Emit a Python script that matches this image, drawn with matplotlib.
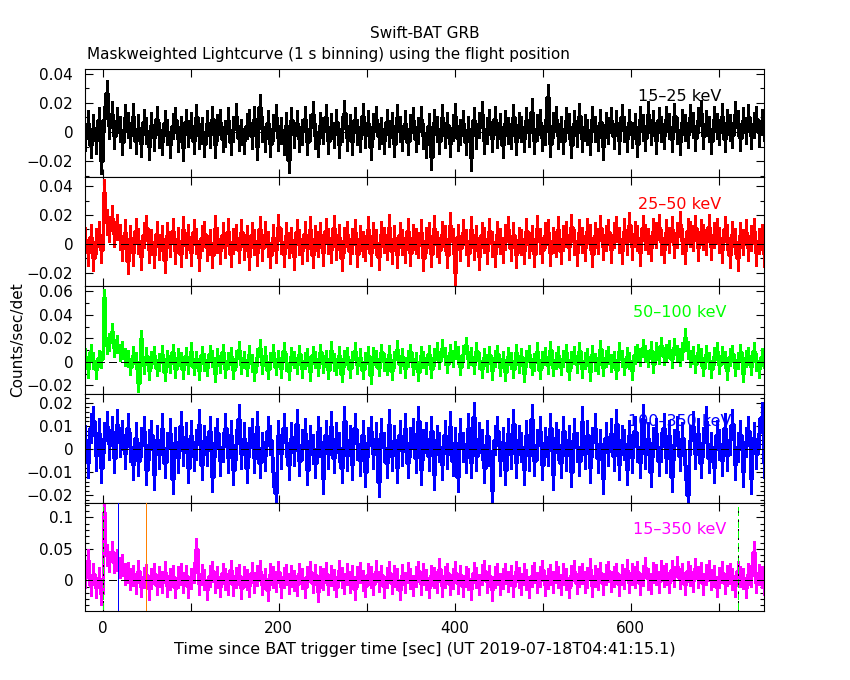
import numpy as np
import matplotlib
matplotlib.use("Agg")
import matplotlib.pyplot as plt
from matplotlib.ticker import MultipleLocator, FuncFormatter

plt.rcParams["font.family"] = "DejaVu Sans"

# light curves, resampled to 3 s bins, first bin centre at -19.5 s
t_first = -19.5
t_bin = 3.0

# 15-25 keV, units of 1e-3 counts/sec/det
rate_15_25 = [
    -4, 6, -9, 3, -6, 8, -20, 9, 27, 4, 12, -3, 8, 2, -7, 10, 5, -2, 11, -6,
    3, -8, 7, 1, -10, 5, -4, 9, -2, -7, 6, 0, -9, 4, 8, -5, 2, -11, 7, -1,
    5, -6, 10, -3, 1, -8, 6, -2, 9, -9, 3, 7, -5, -1, 8, -7, 2, 11, -4, 0,
    -6, 4, 7, -3, 9, -10, 17, 2, -5, 6, -8, 3, 10, -4, 1, -7, 5, -19, 8, -2,
    6, -5, 0, 9, -7, 3, 12, -3, -8, 5, 1, 10, -6, 4, -2, 7, -9, 2, 13, -4,
    3, -7, 8, 0, -5, 11, -2, 6, -10, 4, 9, -3, 1, -6, 7, -1, 5, -8, 10, 2,
    -4, 6, -7, 3, 8, -5, 1, 9, -3, -9, 4, -17, 7, 2, -6, 10, -2, 5, -8, 3,
    11, -4, 0, 6, -7, 2, -18, 8, -3, 5, 12, -6, 1, 7, -5, 9, -2, 4, -9, 6,
    1, -3, 10, -7, 5, 2, -5, 8, -1, 14, -6, 3, 7, -4, 0, 24, -8, 5, 9, -3,
    2, -6, 8, 4, -9, 6, -1, 11, -5, 3, 0, -7, 9, 2, -4, 7, -10, 5, 1, 8,
    -3, 6, -6, 10, 2, -5, 7, -2, 4, -8, 9, 3, -4, 12, 0, 6, -6, 8, 2, -3,
    9, 4, -5, 11, 1, -7, 7, 3, -2, 10, 5, -4, 8, 13, -3, 6, 2, -6, 9, 4,
    0, 11, -5, 7, 3, -2, 12, 6, -4, 8, 1, 10, -3, 5, 9, -1, 7, 3,
]

# 25-50 keV, units of 1e-3
rate_25_50 = [
    3, -6, 5, -10, 2, 7, -4, 36, 15, 10, 18, 7, 12, 5, -3, 8, -12, 4, -6, 9,
    2, -9, 6, 11, -4, 1, -8, 7, -2, 4, -11, 6, 0, 9, -5, 3, -7, 10, -1, 5,
    -6, 8, 2, -10, 4, 7, -3, 1, -8, 11, 3, -5, 6, -1, 9, -7, 2, 5, -4, 8,
    -2, 4, -9, 6, 1, -6, 10, -3, 7, 0, -8, 5, -4, 12, 2, -7, 6, -1, 3, -9,
    8, 1, -5, 7, -3, 10, -8, 4, 0, 6, -6, 9, 2, -4, 11, -2, 5, -10, 3, 7,
    -5, 2, 8, -7, 4, 0, -3, 10, -6, 6, 1, -9, 7, 3, -2, 12, -5, 4, -8, 6,
    1, -4, 9, -6, 5, 2, -1, 8, -10, 3, 6, -7, 11, 0, -4, 7, 4, -8, 13, 2,
    -20, 5, -3, 8, 1, -6, 10, -2, 4, -9, 6, 3, -5, 9, 0, -7, 7, 2, -4, 5,
    10, -3, 6, -8, 3, 1, -5, 9, -1, 4, -7, 11, 2, -4, 6, 8, -6, 3, 0, 10,
    -5, 4, 7, -2, 12, 1, -6, 8, 3, -3, 9, 5, -7, 6, 2, 11, -2, 4, 8, -4,
    6, 10, 3, -5, 9, 1, 13, -2, 7, 4, -6, 11, 5, 2, -3, 9, 6, 12, 1, -4,
    8, 3, 10, -1, 6, 14, 2, -5, 9, 7, 4, 11, -3, 8, 5, 1, 12, -2, 6, 9,
    3, -4, 10, 5, -8, 7, 2, -10, 6, 1, 8, -3, 4, 9, -6, 2, 5, -7,
]

# 50-100 keV, units of 1e-3
rate_50_100 = [
    4, -6, 8, 1, -7, 3, 2, 55, 14, 17, 26, 12, 15, 8, 10, 4, 3, -4, 6, 1,
    -18, 20, -3, 5, -8, 2, 6, -5, 0, 7, -9, 3, -2, 8, -6, 4, 1, -7, 5, -3,
    9, -4, 2, -8, 6, 0, -5, 7, 3, -10, 4, -2, 8, -6, 1, 5, -7, 3, 10, -3,
    2, -5, 7, -1, -9, 4, 12, -3, 6, -7, 1, 8, -4, 3, -6, 9, 0, -8, 5, 2,
    -3, 7, -6, 1, 4, -9, 6, 2, -5, 8, -2, 3, -7, 10, 0, -4, 6, -10, 3, 5,
    -6, 2, 9, -3, 4, -7, 1, 6, -11, 5, 3, -5, 8, 0, -4, 7, -8, 2, 11, -2,
    4, -6, 3, 8, -4, 1, -9, 6, 2, -3, 7, -6, 4, 9, 1, 12, 5, -2, 8, 3,
    10, 6, -4, 7, 14, 2, 5, -3, 9, 1, -6, 4, -1, 6, -8, 3, 7, -5, 2, -9,
    5, 1, -6, 8, -2, 4, -10, 3, 7, -4, 0, 9, -7, 2, 5, -3, 10, -5, 1, 6,
    -4, 3, 8, -8, 2, 6, -2, 9, -6, 1, 4, -9, 7, 0, -3, 11, -5, 3, 6, -1,
    2, -7, 9, 3, -4, 5, 1, -8, 6, 8, 4, 12, 7, 3, 10, -2, 9, 6, 14, 5,
    8, 11, 2, 13, 7, 4, 9, 21, 10, 3, 6, -2, 8, 4, -5, 7, 1, -6, 5, 9,
    -3, 6, 2, -8, 4, 7, -5, 1, 8, -10, 3, 5, -4, 9, 0, -6, 4, 2,
]

# 100-350 keV, units of 1e-4
rate_100_350 = [
    40, -60, 90, 120, -30, 70, -80, 50, 100, 20, 80, -40, 110, 30, 60, -20, 90, 10, -70, 50,
    -50, 30, 80, -90, 20, 60, -110, 40, -20, 90, -60, 10, 70, -130, 30, -40, 100, -10, 50, -80,
    60, -30, 20, 110, -70, 40, -10, 80, -120, 30, 70, -50, 10, 90, -40, 60, -90, 20, 130, -20,
    50, -80, 30, 70, -40, 100, -60, 10, -30, 80, 40, -100, -190, 60, -20, 90, 30, -70, 50, -10,
    110, -50, 20, 70, -90, 40, 0, -60, 80, 30, -130, 60, -20, 100, -40, 50, 10, -80, 120, -30,
    40, -70, 90, 20, -50, 60, -100, 30, 80, -20, 50, -140, 70, 10, -60, 110, -30, 40, -80, 60,
    -10, 90, -60, 30, 70, -40, 120, -90, 20, 50, -30, 80, -110, 40, 10, -70, 60, -20, 100, -50,
    30, -120, 70, 10, -40, 90, -60, 140, -30, 50, 20, -80, 60, -10, -180, 40, 80, -50, 30, -90,
    70, -20, 110, -60, 40, 10, -90, 60, -30, 130, -50, 20, 80, -70, 30, -10, 90, -110, 50, 20,
    -60, 80, -30, 40, -100, 70, 10, -50, 120, -20, 60, -80, 30, 90, -40, 20, -130, 50, -10, 70,
    -30, 110, -70, 40, 20, -90, 60, -40, 80, 10, -60, 130, -20, 50, -100, 30, 70, -50, 10, 90,
    -40, 60, -120, 20, 80, -30, 50, -70, -200, 40, 100, -20, 70, -60, 30, 120, -40, 10, -80, 60,
    20, -50, 90, -30, 40, 110, -70, 10, 60, -100, 30, 80, -130, 50, -20, 70, 140, -60,
]

# 15-350 keV, units of 1e-3
rate_15_350 = [
    5, 32, -8, 10, -12, 4, -22, 108, 40, 30, 46, 28, 32, 20, 24, 10, 12, 2, 8, -5,
    15, -10, 4, 9, -14, 3, 11, -7, 6, -3, 13, -9, 2, 7, -12, 5, 10, -4, 8, -11,
    3, 12, 50, -6, 9, 1, -15, 7, 14, -3, 5, -10, 11, 2, -6, 16, -8, 4, 9, -13,
    6, 1, -9, 12, -4, 8, 15, -7, 3, -16, 10, 5, -2, 13, -11, 4, 9, -5, 7, 0,
    -8, 11, 3, -12, 6, 14, -4, 9, -18, 5, 2, 12, -7, 8, 1, -10, 16, 4, -5, 10,
    -3, 7, -14, 6, 12, 0, -9, 10, 5, -6, 15, -2, 8, -11, 4, 13, -5, 7, 2, -15,
    9, -4, 12, 3, -8, 6, 14, -6, 10, 1, -12, 8, 4, -3, 18, -9, 5, 11, -7, 3,
    13, -5, 8, -10, 6, 2, -14, 12, 4, -7, 9, 15, -3, 7, -16, 5, 10, -6, 3, 11,
    -2, 8, -9, 14, 4, -6, 10, 1, -11, 7, 12, -4, 6, 16, -8, 3, 9, -3, 13, 5,
    -7, 10, 2, -12, 8, 15, -5, 6, 11, -3, 4, 18, -9, 7, 2, 12, -6, 9, 14, -2,
    6, 11, -8, 9, 3, 17, -4, 10, 5, 13, -6, 8, 20, 2, -5, 12, 9, -3, 15, 7,
    10, -4, 16, 6, 22, 3, 11, -7, 14, 8, -2, 19, 5, 12, -6, 9, 15, 1, 7, -10,
    4, 13, -5, 8, 11, 2, -9, 14, 6, 3, -12, 10, 7, 45, -4, 9, 5, -7,
]

bands = ["15\u201325 keV", "25\u201350 keV", "50\u2013100 keV", "100\u2013350 keV", "15\u2013350 keV"]
rates = [rate_15_25, rate_25_50, rate_50_100, rate_100_350, rate_15_350]
units = [1e-3, 1e-3, 1e-3, 1e-4, 1e-3]
errs = [0.009, 0.009, 0.0075, 0.0065, 0.017]
colors = ["black", "#ff0000", "#00ff00", "#0000ff", "#ff00ff"]
ylims = [(-0.0312, 0.0432), (-0.029, 0.046), (-0.0276, 0.0648), (-0.0231, 0.0237), (-0.049, 0.1237)]
ymajor = [0.02, 0.02, 0.02, 0.01, 0.05]
yminor = [0.01, 0.01, 0.01, 0.002, 0.01]

# markers drawn in the bottom panel
t_blue = 17.5
t_orange = 49.0
t_green = [1.0, 722.0]
t_black = [0.0, 722.0]

LW = 0.72      # one device pixel
LW_DATA = 1.0  # data drawn heavier to mimic the dense 1 s curve


def fmt_tick(v, pos):
    if abs(v) < 1e-9:
        return "0"
    return ("%g" % v).replace("-", "\u2212")


fig, axes = plt.subplots(5, 1, figsize=(8.5, 6.8), dpi=100, sharex=True,
                         gridspec_kw={"hspace": 0})
plt.subplots_adjust(left=0.1, right=0.899, bottom=0.1015, top=0.8985)

for i, ax in enumerate(axes):
    y = np.array(rates[i]) * units[i]
    t = t_first + t_bin * np.arange(len(y))
    ax.step(t, y, where="mid", color=colors[i], lw=LW_DATA, antialiased=False, zorder=2)
    eb = ax.errorbar(t, y, yerr=errs[i], fmt="none", ecolor=colors[i], elinewidth=LW_DATA,
                     capsize=0, zorder=2)
    for c in eb[2]:
        c.set_antialiased(False)
    ax.axhline(0, color="black", lw=LW, ls=(0, (7, 5)), antialiased=False, zorder=5)
    ax.text(0.875, 0.75, bands[i], transform=ax.transAxes, ha="center", va="center",
            color=colors[i], fontsize=11.5, zorder=1)
    ax.set_ylim(*ylims[i])
    ax.set_xlim(-20, 751.5)
    ax.yaxis.set_major_locator(MultipleLocator(ymajor[i]))
    ax.yaxis.set_minor_locator(MultipleLocator(yminor[i]))
    ax.yaxis.set_major_formatter(FuncFormatter(fmt_tick))
    ax.xaxis.set_major_locator(MultipleLocator(100))
    ax.xaxis.set_major_formatter(FuncFormatter(lambda v, p: "%d" % v if round(v) % 200 == 0 else ""))
    ax.tick_params(which="both", direction="in", top=True, right=True, width=0.8, labelsize=11)
    ax.tick_params(which="major", length=5.5)
    ax.tick_params(which="minor", length=2.8)
    ax.tick_params(axis="y", pad=8.5)
    ax.tick_params(axis="x", pad=7)
    for s in ax.spines.values():
        s.set_linewidth(0.8)

ax = axes[-1]
ax.axvline(t_blue, color="#0000ff", lw=LW, antialiased=False, zorder=3)
ax.axvline(t_orange, color="#ff8000", lw=LW, antialiased=False, zorder=3)
for tg in t_green:
    ax.axvline(tg, color="#00ff00", lw=LW, ls=(0, (9, 4)), antialiased=False, zorder=3)
for tb in t_black:
    ax.axvline(tb, color="black", lw=LW, ls=(0, (2, 7)), antialiased=False, zorder=3)

fig.text(0.5, 0.951, "Swift-BAT GRB", ha="center", va="center", fontsize=11)
fig.text(0.102, 0.920, "Maskweighted Lightcurve (1 s binning) using the flight position",
         ha="left", va="center", fontsize=11)
fig.text(0.5, 0.045, "Time since BAT trigger time [sec] (UT 2019-07-18T04:41:15.1)",
         ha="center", va="center", fontsize=11.5)
fig.text(0.021, 0.5, "Counts/sec/det", rotation=90, ha="center", va="center", fontsize=11)

fig.savefig("out.png", dpi=100)
